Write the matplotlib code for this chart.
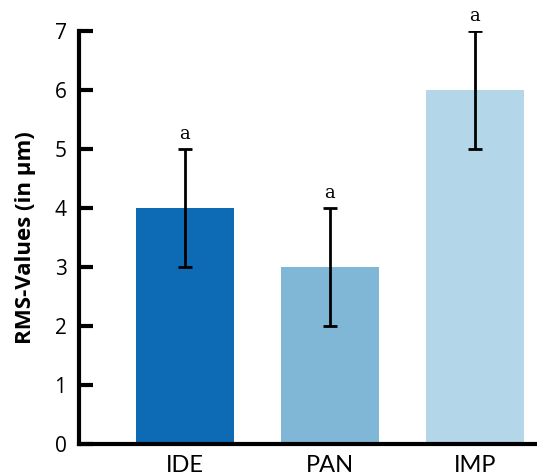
import matplotlib.pyplot as plt
import numpy as np

# Data
groups = ['IDE', 'PAN', 'IMP']
rms = [4, 3, 6]
err = [1, 1, 1]
letters = ['a', 'a', 'a']
colors = ['#0d6ab5', '#80b7d7', '#b3d6e8']

plt.rcParams['font.family'] = ['Open Sans', 'DejaVu Sans']

fig = plt.figure(figsize=(5.37, 4.75), dpi=100)
ax = fig.add_axes([79 / 537, 31 / 475, 458 / 537, 413 / 475])

x = np.arange(len(groups))
ax.bar(x, rms, width=0.676, color=colors)
ax.errorbar(x, rms, yerr=err, fmt='none', ecolor='black', elinewidth=2,
            capsize=5, capthick=2)
for xi, v, e, t in zip(x, rms, err, letters):
    ax.text(xi, v + e + 0.1, t, ha='center', va='bottom',
            family='DejaVu Serif', fontsize=13)

ax.set_xlim(-0.731, 2.428)
ax.set_ylim(0, 7)
ax.set_xticks(x)
ax.set_xticklabels(groups, family=['Lato', 'DejaVu Sans'], fontsize=17)
ax.set_yticks(range(8))

for s in ['top', 'right']:
    ax.spines[s].set_visible(False)
for s in ['left', 'bottom']:
    ax.spines[s].set_linewidth(3)
ax.spines['left'].set_bounds(0, 7)

ax.tick_params(axis='y', direction='in', length=10, width=3, pad=9, labelsize=15)
ax.tick_params(axis='x', length=0, pad=8)
ax.set_ylabel('RMS-Values (in µm)', fontsize=16, fontweight='bold', labelpad=13)

fig.savefig('out.png')
